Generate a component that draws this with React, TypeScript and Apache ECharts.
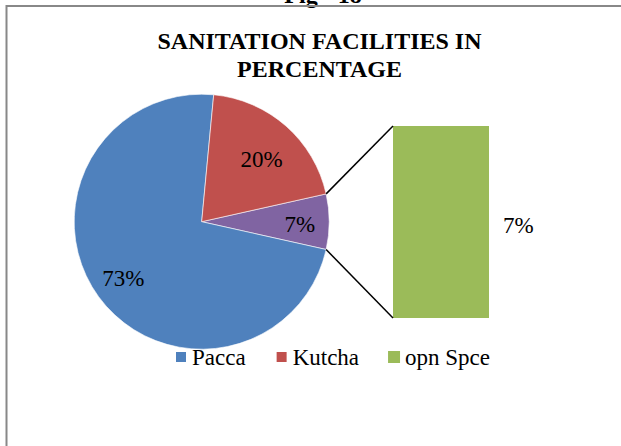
import React, { useEffect, useRef } from "react";
import * as echarts from "echarts";

// ---- data ----
const pieNames = ["Other", "Pacca", "Kutcha"];
const pieValues = [7, 73, 20];
const barCategories = ["opn Spce"];
const barValues = [7];
const legendItems = ["Pacca", "Kutcha", "opn Spce"];
const titleLines = ["SANITATION FACILITIES IN", "PERCENTAGE"];
const headerText = "Fig - 18";

// ---- styles ----
const pieColors = ["#8064A2", "#4F81BD", "#C0504D"];
const barColor = "#9BBB59";
const FONT = "Liberation Serif";
const CX = 201.7;
const CY = 221.7;
const R = 127.5;
const BAR_LEFT = 393;
const BAR_TOP = 126;
const BAR_W = 96;
const BAR_H = 192;
// per-slice label placement: radial fraction and [dx, dy] nudge in px
const labelRadius = [0.77, 0.76, 0.68];
const labelNudge = [
  [0, 3],
  [0, 0],
  [2.5, 2.5],
];

export default function App() {
  const ref = useRef<HTMLDivElement>(null);
  useEffect(() => {
    if (!ref.current) return;
    const chart = echarts.init(ref.current, undefined, { renderer: "svg" });
    const total = pieValues.reduce((a, b) => a + b, 0);
    const half = ((pieValues[0] / total) * 360) / 2;
    const rad = (half * Math.PI) / 180;
    const topPt = [CX + R * Math.cos(rad), CY - R * Math.sin(rad)];
    const botPt = [CX + R * Math.cos(rad), CY + R * Math.sin(rad)];

    // mid angles (degrees, counter-clockwise from east), slices run clockwise from `half`
    const midAngles: number[] = [];
    let acc = half;
    pieValues.forEach((v) => {
      const span = (v / total) * 360;
      midAngles.push(acc - span / 2);
      acc -= span;
    });

    const pieData = pieNames.map((n, i) => ({
      name: n,
      value: pieValues[i],
      itemStyle: { color: pieColors[i] },
    }));

    chart.setOption({
      animation: false,
      backgroundColor: "#ffffff",
      legend: {
        data: legendItems,
        left: 174,
        top: 345,
        padding: 0,
        itemWidth: 12,
        itemHeight: 12,
        itemGap: 29,
        icon: "rect",
        selectedMode: false,
        textStyle: { fontFamily: FONT, fontSize: 23, color: "#000", lineHeight: 24 },
      },
      grid: { left: BAR_LEFT, top: BAR_TOP, width: BAR_W, height: BAR_H },
      xAxis: { type: "category", data: barCategories, show: false },
      yAxis: { type: "value", min: 0, max: barValues[0], show: false },
      series: [
        {
          type: "pie",
          name: "pie",
          center: [CX, CY],
          radius: [0, R],
          startAngle: half,
          clockwise: true,
          avoidLabelOverlap: false,
          label: {
            show: true,
            position: "inside",
            formatter: "{c}%",
            fontFamily: FONT,
            fontSize: 23,
            color: "#000",
          },
          labelLine: { show: false },
          labelLayout: (p: any) => {
            const i = p.dataIndex;
            const a = (midAngles[i] * Math.PI) / 180;
            const rr = labelRadius[i] * R;
            return {
              x: CX + rr * Math.cos(a) + labelNudge[i][0],
              y: CY - rr * Math.sin(a) + labelNudge[i][1],
              align: "center",
              verticalAlign: "middle",
            };
          },
          itemStyle: { borderColor: "#ffffff", borderWidth: 0.6 },
          emphasis: { disabled: true },
          data: pieData,
        },
        {
          type: "bar",
          name: "opn Spce",
          data: barValues,
          barWidth: "100%",
          itemStyle: { color: barColor },
          label: {
            show: true,
            position: "right",
            distance: 14,
            offset: [0, 3],
            formatter: "{c}%",
            fontFamily: FONT,
            fontSize: 23,
            color: "#000",
          },
          emphasis: { disabled: true },
        },
      ],
      graphic: [
        {
          type: "text",
          x: 323,
          y: -5,
          style: {
            text: headerText,
            fontFamily: FONT,
            fontSize: 24,
            fontWeight: "bold",
            fill: "#000",
            align: "center",
            verticalAlign: "middle",
          },
        },
        {
          type: "rect",
          z: 10,
          shape: { x: 6.5, y: 6, width: 800, height: 800 },
          style: { fill: "none", stroke: "#888888", lineWidth: 2 },
        },
        {
          type: "text",
          x: 319.5,
          y: 27,
          style: {
            text: titleLines.join("\n"),
            fontFamily: FONT,
            fontSize: 24,
            fontWeight: "bold",
            lineHeight: 28,
            fill: "#000",
            align: "center",
            verticalAlign: "top",
          },
        },
        {
          type: "line",
          z: 5,
          shape: { x1: topPt[0], y1: topPt[1], x2: BAR_LEFT, y2: BAR_TOP },
          style: { stroke: "#000", lineWidth: 1.5 },
        },
        {
          type: "line",
          z: 5,
          shape: { x1: botPt[0], y1: botPt[1], x2: BAR_LEFT, y2: BAR_TOP + BAR_H },
          style: { stroke: "#000", lineWidth: 1.5 },
        },
      ],
    });
    return () => chart.dispose();
  }, []);
  return (
    <div
      ref={ref}
      style={{ position: "fixed", left: 0, top: 0, width: 621, height: 446, background: "#fff" }}
    />
  );
}
